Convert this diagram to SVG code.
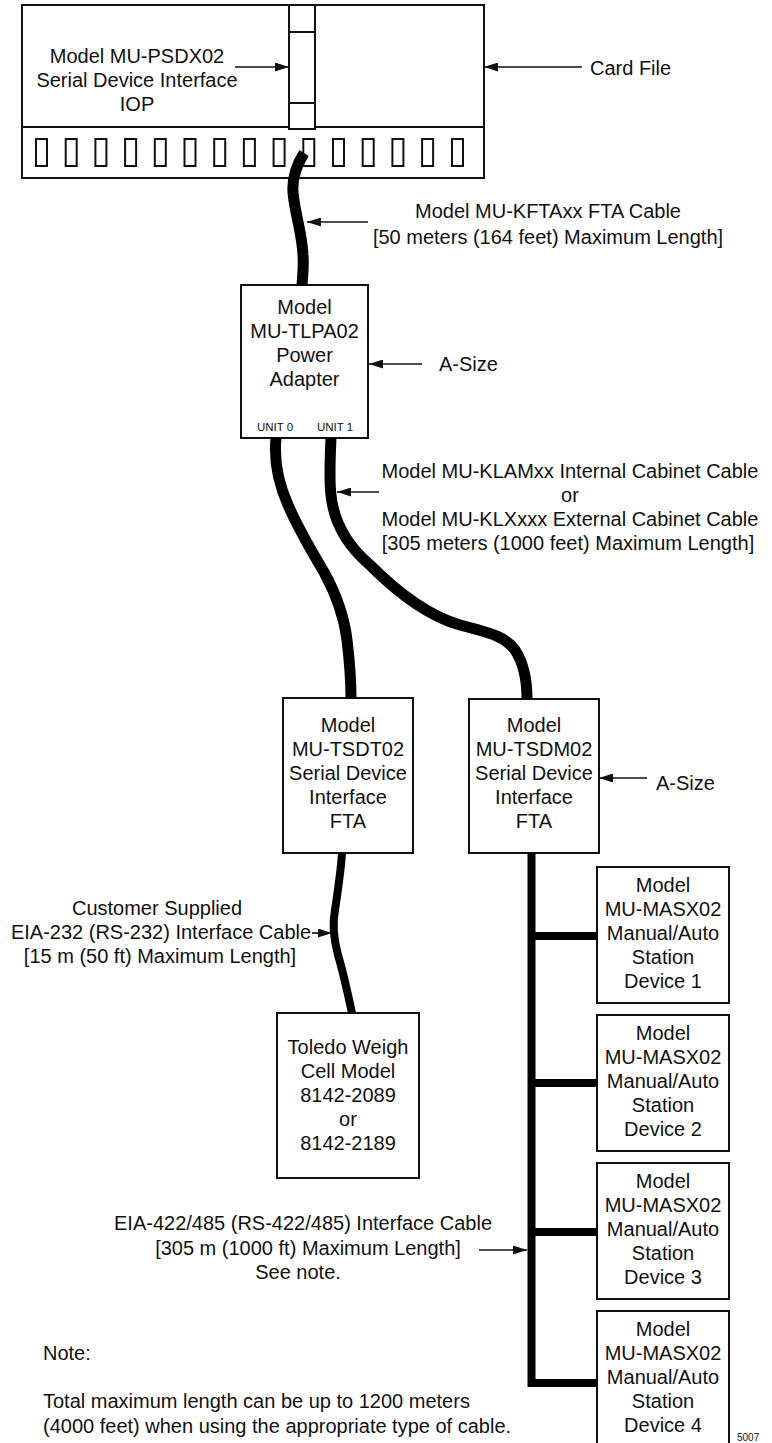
<svg xmlns="http://www.w3.org/2000/svg" width="772" height="1443" viewBox="0 0 772 1443">
<style>
text{font-family:"Liberation Sans",Arial,sans-serif;font-size:20px;fill:#111}
.m{text-anchor:middle}
.sm{font-size:11.5px}
.box{fill:#fff;stroke:#111;stroke-width:2}
.sq{fill:none;stroke:#111;stroke-width:2}
.cable{fill:none;stroke:#000;stroke-width:11;stroke-linecap:butt;stroke-linejoin:round}
.thin{fill:none;stroke:#000;stroke-width:8}
.bus{fill:none;stroke:#000;stroke-width:8;stroke-linejoin:miter}
.arr{stroke:#111;stroke-width:1.6;marker-end:url(#ah)}
</style>
<defs>
<marker id="ah" markerUnits="userSpaceOnUse" markerWidth="14" markerHeight="9" refX="14" refY="4.5" orient="auto">
<path d="M0,0 L14,4.5 L0,9 z" fill="#111"/>
</marker>
</defs>
<rect width="772" height="1443" fill="#fff"/>

<g id="card-file">
<rect class="box" x="22" y="5" width="462" height="173"/>
<line x1="22" y1="127" x2="484" y2="127" stroke="#111" stroke-width="2"/>
<rect class="sq" x="36" y="139" width="11" height="27"/>
<rect class="sq" x="65.7" y="139" width="11" height="27"/>
<rect class="sq" x="95.4" y="139" width="11" height="27"/>
<rect class="sq" x="125.1" y="139" width="11" height="27"/>
<rect class="sq" x="154.8" y="139" width="11" height="27"/>
<rect class="sq" x="184.5" y="139" width="11" height="27"/>
<rect class="sq" x="214.2" y="139" width="11" height="27"/>
<rect class="sq" x="243.9" y="139" width="11" height="27"/>
<rect class="sq" x="273.6" y="139" width="11" height="27"/>
<rect class="sq" x="303.3" y="139" width="11" height="27"/>
<rect class="sq" x="333" y="139" width="11" height="27"/>
<rect class="sq" x="362.7" y="139" width="11" height="27"/>
<rect class="sq" x="392.4" y="139" width="11" height="27"/>
<rect class="sq" x="422.1" y="139" width="11" height="27"/>
<rect class="sq" x="452" y="139" width="11" height="27"/>
<text x="590" y="75">Card File</text>
</g>

<g id="iop">
<rect class="box" x="289" y="5" width="26" height="124"/>
<line x1="289" y1="32" x2="315" y2="32" stroke="#111" stroke-width="2"/>
<line x1="289" y1="103" x2="315" y2="103" stroke="#111" stroke-width="2"/>
<text class="m" x="137" y="63">Model MU-PSDX02</text>
<text class="m" x="137" y="87">Serial Device Interface</text>
<text class="m" x="137" y="111">IOP</text>
</g>

<g id="power-adapter">
<rect class="box" x="241" y="285" width="127" height="153"/>
<text class="m" x="304.5" y="314">Model</text>
<text class="m" x="304.5" y="338">MU-TLPA02</text>
<text class="m" x="304.5" y="362">Power</text>
<text class="m" x="304.5" y="386">Adapter</text>
<text class="m sm" x="275" y="431">UNIT 0</text>
<text class="m sm" x="335" y="431">UNIT 1</text>
<text x="439" y="371">A-Size</text>
</g>

<g id="tsdt02">
<rect class="box" x="283" y="698" width="130" height="155"/>
<text class="m" x="348" y="732">Model</text>
<text class="m" x="348" y="756">MU-TSDT02</text>
<text class="m" x="348" y="780">Serial Device</text>
<text class="m" x="348" y="804">Interface</text>
<text class="m" x="348" y="828">FTA</text>
</g>

<g id="tsdm02">
<rect class="box" x="469" y="699" width="130" height="154"/>
<text class="m" x="534" y="732">Model</text>
<text class="m" x="534" y="756">MU-TSDM02</text>
<text class="m" x="534" y="780">Serial Device</text>
<text class="m" x="534" y="804">Interface</text>
<text class="m" x="534" y="828">FTA</text>
<text x="656" y="790">A-Size</text>
</g>

<g id="toledo">
<rect class="box" x="277" y="1013" width="142" height="165"/>
<text class="m" x="348" y="1054">Toledo Weigh</text>
<text class="m" x="348" y="1078">Cell Model</text>
<text class="m" x="348" y="1102">8142-2089</text>
<text class="m" x="348" y="1126">or</text>
<text class="m" x="348" y="1150">8142-2189</text>
</g>

<g id="device1">
<rect class="box" x="597" y="867" width="132" height="136"/>
<text class="m" x="663" y="892">Model</text>
<text class="m" x="663" y="916">MU-MASX02</text>
<text class="m" x="663" y="940">Manual/Auto</text>
<text class="m" x="663" y="964">Station</text>
<text class="m" x="663" y="988">Device 1</text>
</g>
<g id="device2">
<rect class="box" x="597" y="1015" width="132" height="136"/>
<text class="m" x="663" y="1040">Model</text>
<text class="m" x="663" y="1064">MU-MASX02</text>
<text class="m" x="663" y="1088">Manual/Auto</text>
<text class="m" x="663" y="1112">Station</text>
<text class="m" x="663" y="1136">Device 2</text>
</g>
<g id="device3">
<rect class="box" x="597" y="1163" width="132" height="136"/>
<text class="m" x="663" y="1188">Model</text>
<text class="m" x="663" y="1212">MU-MASX02</text>
<text class="m" x="663" y="1236">Manual/Auto</text>
<text class="m" x="663" y="1260">Station</text>
<text class="m" x="663" y="1284">Device 3</text>
</g>
<g id="device4">
<rect class="box" x="597" y="1311" width="132" height="150"/>
<text class="m" x="663" y="1336">Model</text>
<text class="m" x="663" y="1360">MU-MASX02</text>
<text class="m" x="663" y="1384">Manual/Auto</text>
<text class="m" x="663" y="1408">Station</text>
<text class="m" x="663" y="1432">Device 4</text>
</g>

<g id="connectors">
<path class="cable" d="M304,153 C296,166 292,178 293,192 C294,210 302,232 303,255 C304,270 302,280 302,286"/>
<path class="cable" d="M276,438 C274,458 277,480 288,505 C298,528 312,552 324,572 C336,594 344,615 347,640 C350,665 351,685 351,699"/>
<path class="cable" d="M331,438 C330,460 329,480 331,495 C334,525 350,548 370,565 C395,590 425,615 460,625 C490,633 505,636 515,650 C525,665 527,685 527,699"/>
<path class="thin" d="M342,853 C341,870 338,890 335,910 C332,925 334,940 338,955 C344,975 348,995 352,1013"/>
<path class="bus" d="M531.5,853 V1383 H597"/>
<line class="bus" x1="531.5" y1="936" x2="597" y2="936"/>
<line class="bus" x1="531.5" y1="1083" x2="597" y2="1083"/>
<line class="bus" x1="531.5" y1="1232" x2="597" y2="1232"/>
<line class="arr" x1="235" y1="67" x2="289" y2="67"/>
<line class="arr" x1="582" y1="67" x2="484" y2="67"/>
<line class="arr" x1="368" y1="222" x2="307" y2="222"/>
<line class="arr" x1="422" y1="364" x2="369" y2="364"/>
<line class="arr" x1="379" y1="492" x2="337" y2="492"/>
<line class="arr" x1="647" y1="778" x2="599" y2="778"/>
<line class="arr" x1="312" y1="933" x2="332" y2="933"/>
<line class="arr" x1="479" y1="1250" x2="527" y2="1250"/>
</g>

<g id="labels">
<text class="m" x="548" y="218">Model MU-KFTAxx FTA Cable</text>
<text class="m" x="548" y="244">[50 meters (164 feet) Maximum Length]</text>
<text class="m" x="570" y="478">Model MU-KLAMxx Internal Cabinet Cable</text>
<text class="m" x="570" y="502">or</text>
<text class="m" x="570" y="526">Model MU-KLXxxx External Cabinet Cable</text>
<text class="m" x="568" y="550">[305 meters (1000 feet) Maximum Length]</text>
<text class="m" x="157" y="915">Customer Supplied</text>
<text class="m" x="161" y="939">EIA-232 (RS-232) Interface Cable</text>
<text class="m" x="160" y="963">[15 m (50 ft) Maximum Length]</text>
<text class="m" x="303" y="1230">EIA-422/485 (RS-422/485) Interface Cable</text>
<text class="m" x="308" y="1255">[305 m (1000 ft) Maximum Length]</text>
<text class="m" x="298" y="1279">See note.</text>
<text x="43" y="1360">Note:</text>
<text x="43" y="1408">Total maximum length can be up to 1200 meters</text>
<text x="43" y="1433">(4000 feet) when using the appropriate type of cable.</text>
<text x="737" y="1441" style="font-size:10px">5007</text>
</g>
</svg>
